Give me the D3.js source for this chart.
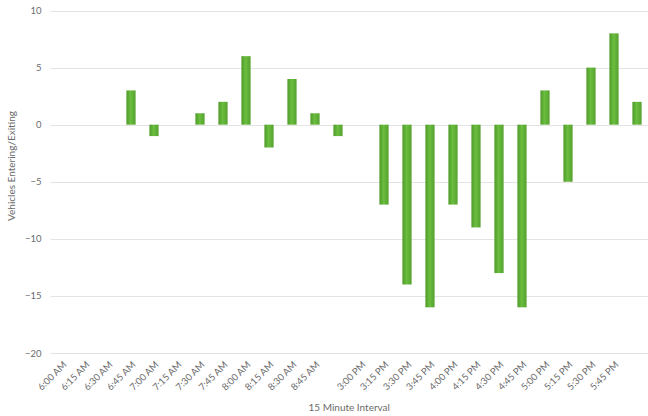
<!DOCTYPE html>
<html>
<head>
<meta charset="utf-8">
<script src="https://cdn.jsdelivr.net/npm/d3@7"></script>
<style>
  body { margin: 0; background: #fff; }
  text { font-family: Lato, "Open Sans", sans-serif; fill: #6b6b6b; }
</style>
</head>
<body>
<script>
// 15 minute intervals, two blank slots in the original sheet
const intervals = [
  "6:00 AM", "6:15 AM", "6:30 AM", "6:45 AM", "7:00 AM", "7:15 AM",
  "7:30 AM", "7:45 AM", "8:00 AM", "8:15 AM", "8:30 AM", "8:45 AM",
  "",
  "3:00 PM", "3:15 PM", "3:30 PM", "3:45 PM", "4:00 PM", "4:15 PM",
  "4:30 PM", "4:45 PM", "5:00 PM", "5:15 PM", "5:30 PM", "5:45 PM",
  ""
];
const netVehicles = [
  0, 0, 0, 3, -1, 0,
  1, 2, 6, -2, 4, 1,
  -1,
  0, -7, -14, -16, -7, -9,
  -13, -16, 3, -5, 5, 8,
  2
];
const yTicks = [-20, -15, -10, -5, 0, 5, 10];

const W = 648, H = 416;
const margin = { top: 10.5, right: -0.5, bottom: 63, left: 50.5 };

const svg = d3.select("body").append("svg")
  .attr("width", W)
  .attr("height", H);

const defs = svg.append("defs");
const grad = defs.append("linearGradient")
  .attr("id", "barGrad")
  .attr("x1", "0%").attr("x2", "100%");
grad.append("stop").attr("offset", "0%").attr("stop-color", "#4f9b2b");
grad.append("stop").attr("offset", "45%").attr("stop-color", "#6abd3e");
grad.append("stop").attr("offset", "100%").attr("stop-color", "#55a22f");

const x = d3.scaleBand()
  .domain(d3.range(intervals.length))
  .range([margin.left, W - margin.right])
  .paddingInner(0.6)
  .paddingOuter(0.3);

const y = d3.scaleLinear()
  .domain([-20, 10])
  .range([H - margin.bottom, margin.top]);

// gridlines
svg.append("g")
  .selectAll("line")
  .data(yTicks)
  .join("line")
  .attr("x1", margin.left)
  .attr("x2", W)
  .attr("y1", d => Math.round(y(d)) + 0.5)
  .attr("y2", d => Math.round(y(d)) + 0.5)
  .attr("stroke", "#e3e3e3")
  .attr("stroke-width", 1);

// y axis labels
const yAxis = d3.axisLeft(y).tickValues(yTicks).tickSize(0).tickPadding(0);
svg.append("g")
  .attr("transform", `translate(${margin.left - 9},0)`)
  .call(yAxis)
  .call(g => g.select(".domain").remove())
  .selectAll("text")
  .style("font-size", "9.5px")
  .style("fill", "#6b6b6b")
  .attr("font-family", null);

// bars
svg.append("g")
  .selectAll("rect")
  .data(netVehicles.map((v, i) => ({ i, v })).filter(d => d.v !== 0))
  .join("rect")
  .attr("x", d => x(d.i))
  .attr("width", x.bandwidth())
  .attr("y", d => y(Math.max(0, d.v)))
  .attr("height", d => Math.abs(y(d.v) - y(0)))
  .attr("fill", "url(#barGrad)");

// x axis labels, rotated
const xAxis = d3.axisBottom(x)
  .tickFormat(i => intervals[i])
  .tickSize(0)
  .tickPadding(0);
svg.append("g")
  .attr("transform", `translate(0,${y(-20) + 9})`)
  .call(xAxis)
  .call(g => g.select(".domain").remove())
  .selectAll("text")
  .attr("font-family", null)
  .style("font-size", "9.5px")
  .style("fill", "#6b6b6b")
  .attr("text-anchor", "end")
  .attr("dy", "0.35em")
  .attr("dx", 0)
  .attr("y", 0)
  .attr("transform", "translate(3,1) rotate(-45)");

// axis titles
svg.append("text")
  .attr("x", (margin.left + W) / 2)
  .attr("y", 411)
  .attr("text-anchor", "middle")
  .style("font-size", "10px")
  .text("15 Minute Interval");

svg.append("text")
  .attr("transform", `translate(15,166) rotate(-90)`)
  .attr("text-anchor", "middle")
  .style("font-size", "10px")
  .text("Vehicles Entering/Exiting");
</script>
</body>
</html>
